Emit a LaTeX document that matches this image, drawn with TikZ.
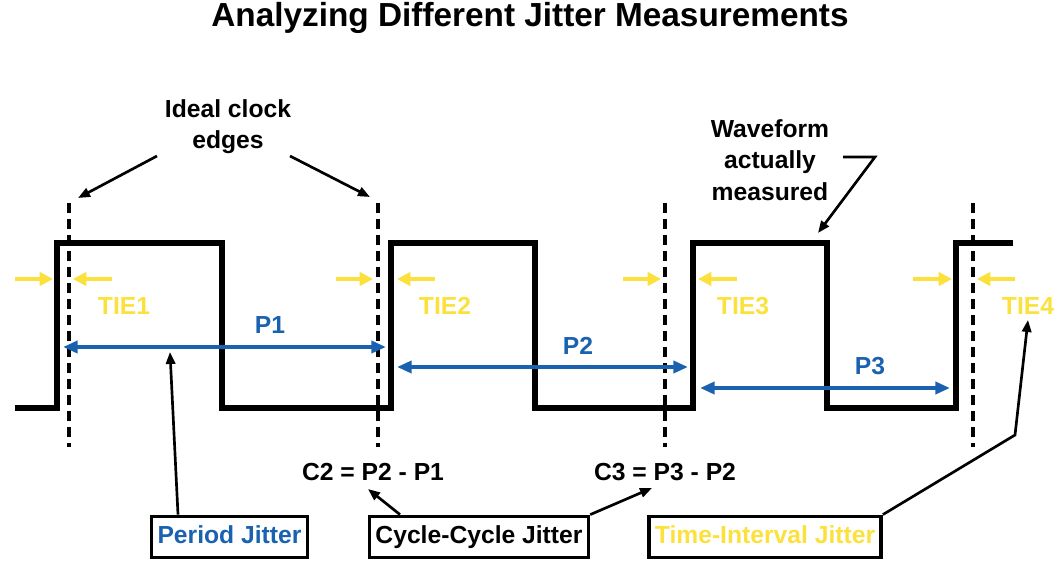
\documentclass[tikz,border=0pt]{standalone}
\usepackage{fontspec}
\setmainfont{Liberation Sans}
\usetikzlibrary{arrows.meta}
\definecolor{jblue}{HTML}{1A62B0}
\definecolor{jyellow}{HTML}{FCE13D}
\begin{document}
\begin{tikzpicture}[x=0.75pt,y=-0.75pt,
  lbl/.style={font=\fontsize{18.5}{23.5}\selectfont\bfseries, inner sep=0pt, align=center},
  wave/.style={line width=4pt, line join=miter},
  ideal/.style={line width=2.4pt, dash pattern=on 7.5pt off 4.5pt},
  parrow/.style={jblue, line width=3pt, {Triangle[length=11pt,width=9pt]}-{Triangle[length=11pt,width=9pt]}},
  tarrow/.style={jyellow, line width=3.4pt, -{Triangle[length=10pt,width=10pt]}},
  conn/.style={line width=2pt, -{Triangle[length=9pt,width=7pt]}},
  jbox/.style={lbl, draw, line width=2.6pt, inner xsep=4.5pt, text height=13.3pt, text depth=3.9pt, minimum height=31pt}
]
\useasboundingbox (0,0) rectangle (1060,571);
% title
\node[font=\fontsize{25}{30}\selectfont\bfseries] (title) at (530,18) {Analyzing Different Jitter Measurements};
% ideal clock edges
\foreach \x/\n in {69/d1,378/d2,665/d3,973/d4}{
  \draw[ideal] (\x,203) coordinate (\n t) -- (\x,447) coordinate (\n b);
}
% waveform
\draw[wave] (15,408) -- (57,408) -- (57,243) -- (222,243) -- (222,408) -- (391,408) -- (391,243)
  -- (535,243) -- (535,408) -- (693,408) -- (693,243) -- (827,243) -- (827,408) -- (956,408)
  -- (956,243) -- (1013,243);
% TIE arrows
\foreach \a/\b/\c/\d in {15/53/112/73, 336/373/435/397, 623/661/737/698, 913/952/1015/977}{
  \draw[tarrow] (\a,279) -- (\b,279);
  \draw[tarrow] (\c,279) -- (\d,279);
}
\node[lbl, text=jyellow] (tie1) at (124,306) {TIE1};
\node[lbl, text=jyellow] (tie2) at (445,306) {TIE2};
\node[lbl, text=jyellow] (tie3) at (743,306) {TIE3};
\node[lbl, text=jyellow] (tie4) at (1028,306) {TIE4};
% period arrows
\coordinate (p1a) at (63,347); \coordinate (p1b) at (386,347);
\coordinate (p2a) at (397,367); \coordinate (p2b) at (688,367);
\coordinate (p3a) at (700,388); \coordinate (p3b) at (950,388);
\draw[parrow] (p1a) -- (p1b);
\draw[parrow] (p2a) -- (p2b);
\draw[parrow] (p3a) -- (p3b);
\node[lbl, text=jblue] (p1) at (270,325) {P1};
\node[lbl, text=jblue] (p2) at (578,346) {P2};
\node[lbl, text=jblue] (p3) at (870,366) {P3};
% annotations
\node[lbl] (ice) at (228,127) {Ideal clock\\edges};
\coordinate (ice1) at (157,156); \coordinate (ice2) at (290,156);
\draw[conn] (ice1) -- (78,198) coordinate (icet1);
\draw[conn] (ice2) -- (370,197) coordinate (icet2);
\node[lbl] (wam) at (770,160) {Waveform\\actually\\measured};
\coordinate (wam1) at (843,157); \coordinate (wam2) at (875,157); \coordinate (wamt) at (818,233);
\draw[conn] (wam1) -- (wam2) -- (wamt);
\node[lbl] (c2) at (373,472) {C2 = P2 - P1};
\node[lbl] (c3) at (665,472) {C3 = P3 - P2};
% boxes
\node[jbox, text=jblue] (pj) at (229.5,537) {Period Jitter};
\node[jbox] (cj) at (479,537) {Cycle-Cycle Jitter};
\node[jbox, text=jyellow] (tj) at (765,537) {Time-Interval Jitter};
\coordinate (pjx) at (178,0); \coordinate (pjt) at (170,352);
\draw[conn] (pj.north -| pjx) -- (pjt);
\coordinate (cjx) at (400,0); \coordinate (c2t) at (368,489); \coordinate (c3t) at (652,488);
\draw[conn] (cj.north -| cjx) -- (c2t);
\draw[conn] (cj.north east) -- (c3t);
\coordinate (tjk) at (1015,435); \coordinate (tjt) at (1028,320);
\draw[conn] (tj.north east) -- (tjk) -- (tjt);
\end{tikzpicture}
\end{document}
